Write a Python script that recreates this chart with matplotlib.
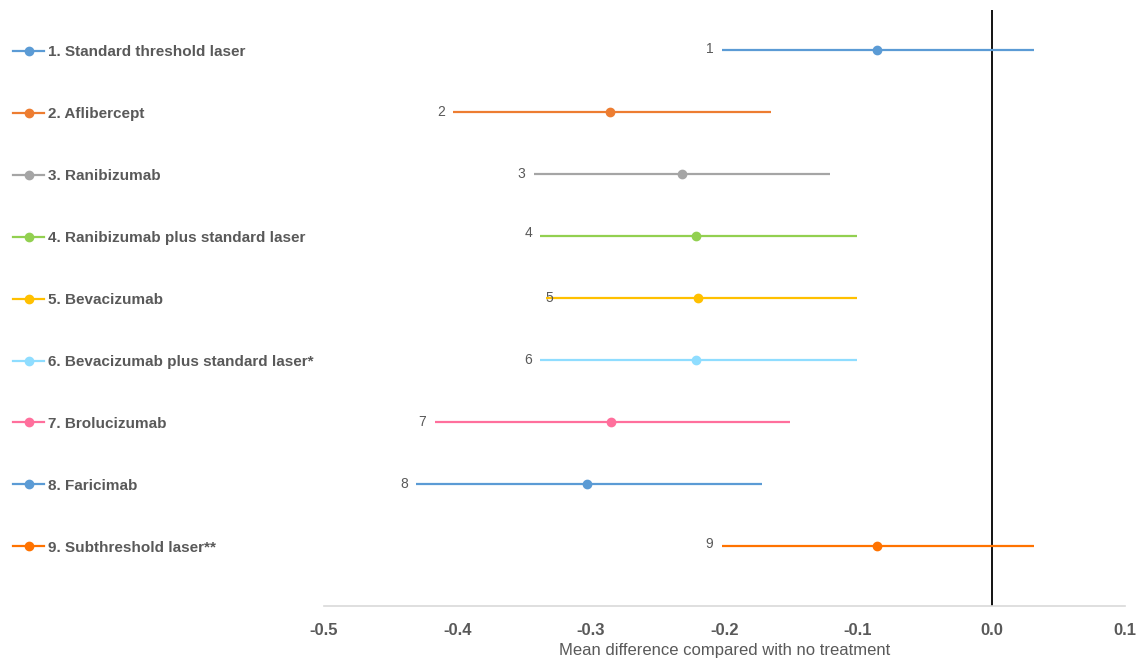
import matplotlib
matplotlib.use("Agg")
import matplotlib.pyplot as plt
from matplotlib.lines import Line2D

treatments = ["1. Standard threshold laser", "2. Aflibercept", "3. Ranibizumab",
              "4. Ranibizumab plus standard laser", "5. Bevacizumab",
              "6. Bevacizumab plus standard laser*", "7. Brolucizumab",
              "8. Faricimab", "9. Subthreshold laser**"]
numbers = ["1", "2", "3", "4", "5", "6", "7", "8", "9"]
mean_diff = [-0.086, -0.286, -0.232, -0.221, -0.220, -0.221, -0.285, -0.303, -0.086]
lower = [-0.202, -0.403, -0.343, -0.338, -0.334, -0.338, -0.417, -0.431, -0.202]
upper = [0.032, -0.165, -0.121, -0.101, -0.101, -0.101, -0.151, -0.172, 0.032]
colors = ["#5B9BD5", "#ED7D31", "#A5A5A5", "#92D050", "#FFC000",
          "#8FDDFF", "#FF6F9C", "#5B9BD5", "#FF7300"]
xticks = [-0.5, -0.4, -0.3, -0.2, -0.1, 0.0, 0.1]
# label offsets (points) relative to the lower CI end
label_dx = [-6, -6, -6, -6, 0, -6, -6, -6, -6]
label_ha = ["right", "right", "right", "right", "left", "right", "right", "right", "right"]
label_dy = [1, 0, 0, 2, 0, 0, 0, 0, 1]

fig = plt.figure(figsize=(11.46, 6.64), dpi=100)
ax = fig.add_axes([324/1146, 58/664, (1125-324)/1146, (606-10)/664])

ypos = list(range(1, len(treatments) + 1))
handles = []
for i, y in enumerate(ypos):
    ax.plot([lower[i], upper[i]], [y, y], color=colors[i], lw=1.6, solid_capstyle="butt", zorder=3)
    ax.plot(mean_diff[i], y, "o", color=colors[i], markersize=6, zorder=4)
    ax.annotate(numbers[i], (lower[i], y), xytext=(label_dx[i], label_dy[i]),
                textcoords="offset points", ha=label_ha[i], va="center",
                fontsize=10, color="#595959", family="Liberation Sans", zorder=5)
    handles.append(Line2D([], [], color=colors[i], lw=1.6, marker="o", markersize=6))

ax.axvline(0, color="black", lw=1.3, zorder=2)

ax.set_xlim(-0.5, 0.1)
ax.set_ylim(9.97, 0.355)
ax.set_yticks([])
ax.set_xticks(xticks)
ax.set_xticklabels([f"{t:.1f}" for t in xticks], fontsize=12, color="#595959",
                   fontweight="bold", family="Liberation Sans")
ax.tick_params(axis="x", length=0, pad=12)
for s in ["top", "right", "left"]:
    ax.spines[s].set_visible(False)
ax.spines["bottom"].set_color("#D9D9D9")
ax.spines["bottom"].set_linewidth(1.2)
ax.set_xlabel("Mean difference compared with no treatment", fontsize=12, color="#595959",
              family="Liberation Sans", labelpad=4)

leg = fig.legend(handles, treatments, loc="upper left", bbox_to_anchor=(0.0117, 1 - 45/664),
                 frameon=False, handlelength=2.0, handletextpad=0.25, labelspacing=3.14,
                 borderaxespad=0, borderpad=0,
                 prop={"family": "Liberation Sans", "weight": "bold", "size": 11})
for t in leg.get_texts():
    t.set_color("#595959")

fig.savefig("out.png", dpi=100)
